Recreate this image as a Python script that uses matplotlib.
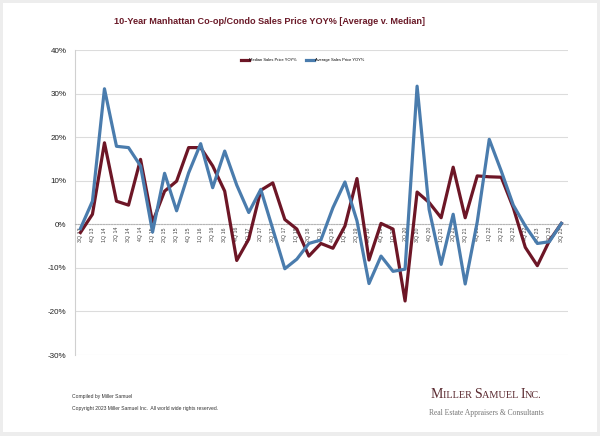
import matplotlib
matplotlib.use("Agg")
import matplotlib.pyplot as plt
from matplotlib.ticker import FuncFormatter
from matplotlib.offsetbox import TextArea, HPacker, AnchoredOffsetbox
from matplotlib.patches import Rectangle

quarters = ["3Q 13", "4Q 13",
            "1Q 14", "2Q 14", "3Q 14", "4Q 14",
            "1Q 15", "2Q 15", "3Q 15", "4Q 15",
            "1Q 16", "2Q 16", "3Q 16", "4Q 16",
            "1Q 17", "2Q 17", "3Q 17", "4Q 17",
            "1Q 18", "2Q 18", "3Q 18", "4Q 18",
            "1Q 19", "2Q 19", "3Q 19", "4Q 19",
            "1Q 20", "2Q 20", "3Q 20", "4Q 20",
            "1Q 21", "2Q 21", "3Q 21", "4Q 21",
            "1Q 22", "2Q 22", "3Q 22", "4Q 22",
            "1Q 23", "2Q 23", "3Q 23"]

median_yoy = [-1.9, 2.3, 18.7, 5.3, 4.4, 14.9,
              0.5, 7.6, 9.9, 17.6, 17.6, 13.4, 7.6, -8.3,
              -3.4, 7.8, 9.5, 1.1, -1.1, -7.3, -4.4, -5.5,
              -0.4, 10.5, -8.2, 0.2, -1.1, -17.6, 7.4, 5.0,
              1.5, 13.1, 1.5, 11.1, 10.9, 10.8, 3.8, -5.3,
              -9.5, -3.8, 0.2]

average_yoy = [-1.0, 5.3, 31.1, 17.9, 17.6, 13.4,
               -1.8, 11.7, 3.1, 11.8, 18.5, 8.4, 16.8, 9.0,
               2.7, 8.0, -1.1, -10.2, -8.0, -4.4, -3.6, 3.8,
               9.7, 0.8, -13.6, -7.3, -10.8, -10.3, 31.7, 3.4,
               -9.2, 2.3, -13.7, 0.5, 19.5, 12.2, 4.4, -0.4,
               -4.4, -4.0, 0.2]

maroon = "#6d1626"
blue = "#4a7cad"

plt.rcParams["font.family"] = ["Liberation Sans", "DejaVu Sans"]

fig = plt.figure(figsize=(6, 4.36), dpi=100, facecolor="#ededed")
fig.patches.append(Rectangle((3 / 600, 4 / 436), 594 / 600, 429 / 436,
                             transform=fig.transFigure, facecolor="white",
                             edgecolor="none", zorder=-5))

ax = fig.add_axes([75 / 600, 1 - 355 / 436, 493 / 600, 305 / 436])
ax.set_facecolor("none")

x = list(range(len(quarters)))
ax.plot(x, median_yoy, color=maroon, lw=2.3, label="Median Sales Price YOY%", zorder=3)
ax.plot(x, average_yoy, color=blue, lw=2.3, label="Average Sales Price YOY%", zorder=3)

ax.set_ylim(-30, 40)
ax.set_xlim(-0.45, 40.55)
ax.set_yticks(range(-30, 41, 10))
ax.yaxis.set_major_formatter(FuncFormatter(lambda v, p: f"{v:.0f}%"))
ax.grid(axis="y", color="#dcdcdc", lw=0.8)
ax.set_axisbelow(True)

ax.spines["top"].set_visible(False)
ax.spines["right"].set_visible(False)
ax.spines["left"].set_color("#d0d0d0")
ax.spines["bottom"].set_position(("data", 0))
ax.spines["bottom"].set_color("#b5b5b5")
ax.spines["bottom"].set_linestyle((0, (1, 1.5)))

ax.set_xticks(x)
ax.set_xticklabels(quarters, rotation=90, fontsize=3.8, color="#444444")
ax.tick_params(axis="x", length=0, pad=2)
ax.tick_params(axis="y", length=0, labelsize=5.8, pad=6, labelcolor="#222222")

ax.legend(loc="upper center", bbox_to_anchor=(0.461, 0.985), ncol=2, frameon=False,
          fontsize=2.9, handlelength=2.0, columnspacing=2.2, handletextpad=0.2)

fig.text(270 / 600, 1 - 21 / 436, "10-Year Manhattan Co-op/Condo Sales Price YOY% [Average v. Median]",
         ha="center", va="center", fontsize=6.6, fontweight="bold", color="#6a1a28")

fig.text(72 / 600, 1 - 396 / 436, "Compiled by Miller Samuel", fontsize=3.6, color="#333333", va="center")
fig.text(72 / 600, 1 - 408 / 436, "Copyright 2023 Miller Samuel Inc.  All world wide rights reserved.",
         fontsize=3.6, color="#333333", va="center")

# small caps logo
logo_color = "#5a2a30"
parts = [("M", 10), ("ILLER ", 7.4), ("S", 10), ("AMUEL ", 7.4), ("I", 10), ("NC.", 7.4)]
areas = [TextArea(t, textprops=dict(fontsize=s, color=logo_color, family="Liberation Serif"))
         for t, s in parts]
box = HPacker(children=areas, align="baseline", pad=0, sep=0)
anchored = AnchoredOffsetbox(loc="center", child=box, frameon=False,
                             bbox_to_anchor=(486 / 600, 1 - 394 / 436),
                             bbox_transform=fig.transFigure, borderpad=0, pad=0)
fig.add_artist(anchored)
fig.text(486 / 600, 1 - 413 / 436, "Real Estate Appraisers & Consultants", ha="center", va="center",
         fontsize=5.5, color="#777777", family="Liberation Serif")

fig.savefig("out.png", dpi=100, facecolor=fig.get_facecolor())
